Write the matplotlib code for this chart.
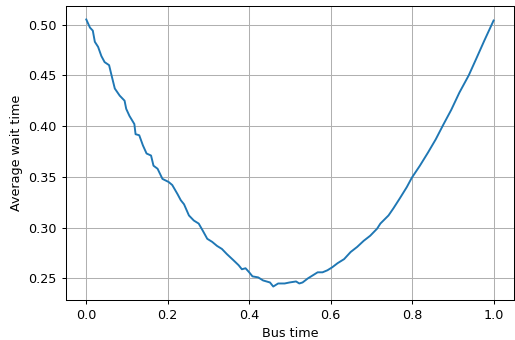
import matplotlib
matplotlib.use('Agg')
import matplotlib.pyplot as plt

# values
bus_time = [0.000, 0.009, 0.016, 0.021, 0.029, 0.037, 0.045, 0.056, 0.062, 0.070,
            0.082, 0.094, 0.098, 0.106, 0.118, 0.121, 0.130, 0.139, 0.148, 0.159,
            0.165, 0.175, 0.187, 0.202, 0.211, 0.224, 0.232, 0.240, 0.252, 0.264,
            0.276, 0.286, 0.297, 0.309, 0.321, 0.333, 0.345, 0.361, 0.374, 0.382,
            0.391, 0.400, 0.408, 0.422, 0.434, 0.451, 0.459, 0.471, 0.487, 0.499,
            0.515, 0.523, 0.531, 0.544, 0.556, 0.568, 0.580, 0.592, 0.604, 0.617,
            0.633, 0.649, 0.665, 0.681, 0.697, 0.714, 0.722, 0.742, 0.754, 0.770,
            0.787, 0.799, 0.819, 0.839, 0.858, 0.876, 0.896, 0.916, 0.939, 0.957,
            0.977, 1.000]
avg_wait = [0.505, 0.497, 0.494, 0.483, 0.478, 0.469, 0.463, 0.460, 0.450, 0.437,
            0.430, 0.425, 0.417, 0.410, 0.402, 0.392, 0.391, 0.381, 0.373, 0.371,
            0.361, 0.358, 0.348, 0.345, 0.342, 0.333, 0.327, 0.323, 0.312, 0.307,
            0.304, 0.297, 0.289, 0.286, 0.282, 0.279, 0.274, 0.268, 0.263, 0.259,
            0.260, 0.256, 0.252, 0.251, 0.248, 0.246, 0.242, 0.245, 0.245, 0.246,
            0.247, 0.245, 0.246, 0.250, 0.253, 0.256, 0.256, 0.258, 0.261, 0.265,
            0.269, 0.276, 0.281, 0.287, 0.292, 0.299, 0.304, 0.312, 0.319, 0.329,
            0.340, 0.349, 0.361, 0.374, 0.387, 0.401, 0.416, 0.433, 0.450, 0.466,
            0.484, 0.504]

fig = plt.figure(figsize=(515 / 92, 340 / 92), dpi=92)
ax = fig.add_axes([0.128, 0.118, 0.87, 0.864])
ax.plot(bus_time, avg_wait)
ax.set_xlabel('Bus time')
ax.set_ylabel('Average wait time')
ax.grid(True)

fig.savefig('out.png', dpi=92)
